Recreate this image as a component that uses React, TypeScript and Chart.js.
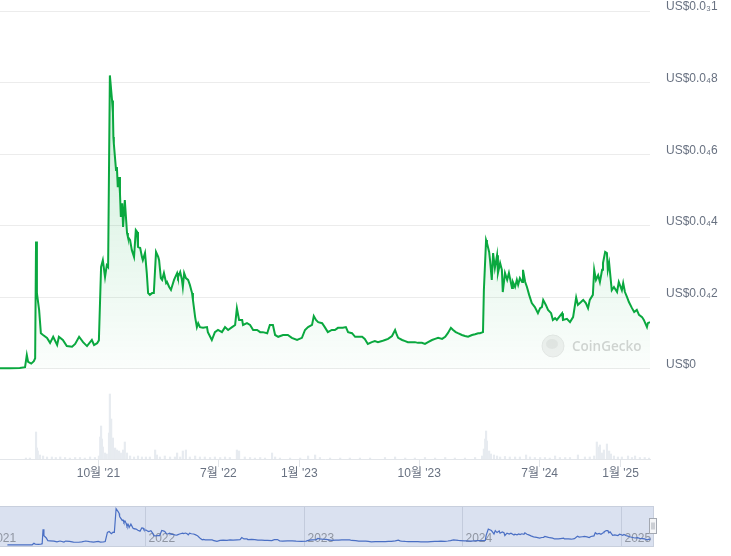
import React, { useEffect, useRef } from "react";
import { Chart, registerables } from "chart.js";
Chart.register(...registerables);

// x values: days since 2021-01-01
const priceDays = [
  49, 72, 94, 106, 110, 113, 120, 126, 129, 131, 133, 138, 142, 147, 156, 163, 170, 179, 183, 192,
  201, 213, 220, 229, 238, 247, 258, 263, 270, 274, 279, 283, 288, 292, 295, 299, 304, 306, 307, 308,
  313, 315, 317, 320, 322, 324, 327, 329, 333, 338, 340, 345, 349, 354, 358, 361, 363, 368, 372, 374,
  379, 383, 386, 390, 395, 399, 404, 409, 411, 415, 418, 422, 427, 429, 434, 438, 440, 445, 452, 454,
  459, 463, 465, 468, 472, 477, 481, 486, 488, 493, 497, 500, 504, 511, 520, 522, 531, 538, 545, 554,
  561, 568, 577, 584, 588, 593, 600, 602, 611, 618, 625, 634, 641, 647, 657, 663, 670, 675, 682, 693,
  704, 713, 725, 736, 743, 750, 759, 763, 768, 773, 782, 788, 795, 804, 811, 818, 829, 836, 841, 850,
  857, 864, 873, 879, 886, 895, 902, 909, 918, 925, 932, 941, 948, 952, 955, 964, 971, 977, 986, 993,
  1000, 1009, 1016, 1023, 1032, 1039, 1046, 1055, 1062, 1068, 1075, 1080, 1086, 1091, 1100, 1107, 1114, 1123, 1130, 1137,
  1141, 1148, 1150, 1155, 1157, 1162, 1164, 1168, 1171, 1175, 1180, 1182, 1187, 1191, 1193, 1198, 1203, 1207, 1214, 1216,
  1221, 1225, 1228, 1232, 1237, 1239, 1244, 1248, 1253, 1259, 1266, 1273, 1278, 1282, 1285, 1291, 1296, 1303, 1307, 1312,
  1316, 1321, 1328, 1330, 1339, 1346, 1353, 1360, 1364, 1371, 1376, 1382, 1387, 1391, 1398, 1401, 1405, 1410, 1414, 1419,
  1421, 1426, 1430, 1432, 1435, 1441, 1446, 1453, 1457, 1464, 1467, 1471, 1476, 1480, 1487, 1492, 1498, 1503, 1510, 1514,
  1521, 1523, 1528,
];
// price in units of 0.00001 USD
const prices = [
  0.02, 0.02, 0.03, 0.05, 0.39, 0.2, 0.15, 0.22, 0.3, 3.56, 2.12, 1.65, 1.0, 0.95, 0.87, 0.73, 0.9, 0.67, 0.9, 0.81,
  0.64, 0.62, 0.7, 0.9, 0.75, 0.64, 0.81, 0.67, 0.72, 0.8, 2.85, 3.04, 2.57, 2.9, 2.85, 8.2, 7.5, 7.15, 6.48, 6.3,
  5.56, 5.64, 5.08, 5.36, 4.9, 4.25, 4.63, 3.97, 4.72, 3.8, 3.69, 3.6, 3.32, 3.13, 3.88, 3.83, 3.41, 3.38, 3.13, 3.04,
  3.24, 2.68, 2.12, 2.07, 2.12, 2.12, 3.27, 3.13, 3.04, 2.54, 2.49, 2.68, 2.4, 2.43, 2.29, 2.21, 2.29, 2.49, 2.68, 2.57,
  2.71, 2.49, 2.29, 2.68, 2.54, 2.49, 2.35, 2.12, 1.93, 1.45, 1.17, 1.28, 1.17, 1.15, 1.17, 1.03, 0.81, 1.03, 1.09, 1.03,
  1.17, 1.09, 1.17, 1.23, 1.7, 1.37, 1.37, 1.23, 1.28, 1.23, 1.09, 1.09, 1.03, 1.03, 1.0, 1.23, 1.23, 0.95, 0.9, 0.95,
  0.95, 0.87, 0.81, 0.87, 1.09, 1.17, 1.23, 1.48, 1.37, 1.31, 1.28, 1.17, 1.03, 1.09, 1.09, 1.15, 1.15, 1.17, 1.03, 1.0,
  0.9, 0.9, 0.9, 0.84, 0.7, 0.75, 0.78, 0.75, 0.78, 0.81, 0.84, 0.92, 1.09, 0.95, 0.87, 0.81, 0.78, 0.75, 0.75, 0.75,
  0.73, 0.73, 0.7, 0.75, 0.81, 0.84, 0.87, 0.84, 0.9, 1.0, 1.15, 1.09, 1.03, 1.0, 0.95, 0.92, 0.9, 0.95, 0.97, 1.0,
  1.0, 1.03, 2.2, 3.6, 3.52, 3.27, 3.04, 2.49, 3.24, 2.82, 3.18, 2.68, 2.96, 2.77, 2.15, 2.68, 2.49, 2.68, 2.26, 2.43,
  2.29, 2.49, 2.35, 2.54, 2.43, 2.77, 2.43, 2.29, 2.07, 1.84, 1.73, 1.56, 1.7, 1.73, 1.93, 1.79, 1.65, 1.56, 1.37, 1.42,
  1.37, 1.45, 1.56, 1.37, 1.4, 1.31, 1.45, 2.0, 1.79, 1.87, 1.93, 1.84, 1.7, 1.93, 2.07, 2.77, 2.49, 2.62, 2.43, 2.77,
  2.96, 3.27, 3.24, 2.77, 2.96, 2.2, 2.29, 2.15, 2.43, 2.2, 2.4, 2.15, 2.0, 1.87, 1.7, 1.59, 1.65, 1.51, 1.45, 1.37,
  1.17, 1.28, 1.31,
];

const volumeDays = [
  108, 117, 131, 133, 135, 140, 147, 156, 167, 176, 186, 197, 208, 220, 231, 242, 254, 265, 274, 277,
  279, 281, 283, 288, 292, 297, 299, 302, 304, 306, 308, 311, 315, 320, 324, 329, 333, 338, 345, 354,
  363, 372, 381, 390, 402, 406, 413, 424, 436, 447, 452, 459, 465, 472, 481, 493, 504, 515, 527, 538,
  550, 561, 572, 588, 593, 606, 618, 629, 641, 652, 668, 675, 686, 709, 732, 750, 766, 777, 800, 823,
  845, 868, 891, 925, 948, 971, 993, 1016, 1039, 1062, 1084, 1107, 1130, 1146, 1150, 1153, 1155, 1157, 1162, 1166,
  1173, 1180, 1187, 1198, 1209, 1221, 1232, 1246, 1255, 1266, 1278, 1289, 1300, 1312, 1323, 1335, 1346, 1364, 1380, 1391,
  1401, 1407, 1412, 1414, 1419, 1423, 1430, 1435, 1439, 1446, 1455, 1464, 1478, 1487, 1494, 1505, 1516, 1526,
];
const volumes = [
  10, 10, 270, 110, 80, 40, 30, 20, 20, 15, 20, 15, 10, 15, 15, 10, 20, 15, 30, 220,
  330, 200, 120, 60, 50, 260, 650, 400, 150, 210, 100, 110, 90, 80, 60, 90, 170, 60, 30, 20,
  30, 20, 20, 20, 90, 40, 20, 30, 20, 20, 60, 20, 80, 90, 20, 30, 20, 20, 15, 20,
  15, 20, 15, 90, 80, 20, 15, 10, 15, 10, 60, 20, 10, 10, 10, 30, 40, 15, 10, 10,
  10, 10, 10, 15, 20, 10, 10, 15, 10, 15, 10, 10, 15, 30, 100, 200, 280, 180, 80, 50,
  40, 30, 20, 25, 20, 20, 20, 40, 20, 15, 15, 15, 10, 30, 15, 15, 15, 40, 20, 20,
  30, 170, 120, 140, 60, 90, 150, 80, 50, 30, 20, 20, 30, 15, 30, 15, 15, 10,
];

const xTickDays = [273, 546, 730, 1003, 1277, 1461];
const xTickLabels = ["10월 '21", "7월 '22", "1월 '23", "10월 '23", "7월 '24", "1월 '25"];
const yTickValues = [0, 2, 4, 6, 8, 10];
const yTickLabels = ["US$0", "US$0.0₄2", "US$0.0₄4", "US$0.0₄6", "US$0.0₄8", "US$0.0₃1"];
const navYearDays = [0, 365, 730, 1095, 1461];
const navYearLabels = ["2021", "2022", "2023", "2024", "2025"];

const FONT = 'Arial, "Liberation Sans", "Noto Sans CJK KR", sans-serif';
const LABEL_COLOR = "#687181";

const watermark = {
  id: "watermark",
  beforeDatasetsDraw(chart: any) {
    const { ctx, chartArea } = chart;
    const cx = chartArea.right - 97;
    const cy = chart.scales.y.getPixelForValue(0) - 23;
    ctx.save();
    ctx.beginPath();
    ctx.arc(cx, cy, 11, 0, Math.PI * 2);
    ctx.fillStyle = "#f1f1f1";
    ctx.fill();
    ctx.strokeStyle = "#e8e8e8";
    ctx.lineWidth = 1;
    ctx.stroke();
    ctx.beginPath();
    ctx.ellipse(cx - 1, cy - 2, 6, 5, 0, 0, Math.PI * 2);
    ctx.fillStyle = "#e6e6e6";
    ctx.fill();
    ctx.font = '600 13.5px "Open Sans", Arial, sans-serif';
    ctx.fillStyle = "#d5d5d5";
    ctx.textBaseline = "middle";
    ctx.textAlign = "left";
    ctx.fillText("CoinGecko", cx + 19, cy + 1);
    ctx.restore();
  },
};

const navPlugin = {
  id: "navPlugin",
  beforeDatasetsDraw(chart: any) {
    const { ctx, chartArea: a, scales } = chart;
    ctx.save();
    ctx.fillStyle = "#dae1f0";
    ctx.fillRect(a.left, a.top, a.right - a.left, a.bottom - a.top);
    ctx.strokeStyle = "#c3cbdc";
    ctx.lineWidth = 1;
    ctx.font = "12px " + FONT;
    ctx.textBaseline = "alphabetic";
    ctx.textAlign = "left";
    navYearDays.forEach((d, i) => {
      const px = Math.round(scales.x.getPixelForValue(d)) + 0.5;
      ctx.beginPath();
      ctx.moveTo(px, a.top);
      ctx.lineTo(px, a.bottom);
      ctx.stroke();
      ctx.fillStyle = "#8f95a1";
      ctx.fillText(navYearLabels[i], px + 3, a.bottom - 5);
    });
    ctx.restore();
  },
  afterDraw(chart: any) {
    const { ctx, chartArea: a } = chart;
    ctx.save();
    ctx.strokeStyle = "#c8cfdd";
    ctx.lineWidth = 1;
    ctx.strokeRect(a.left - 1, a.top + 0.5, a.right - a.left + 0.5, a.bottom - a.top - 1);
    const hx = a.right - 4.5;
    const hy = a.top + 12.5;
    ctx.fillStyle = "#f4f5f7";
    ctx.fillRect(hx, hy, 7, 15);
    ctx.strokeStyle = "#a3a8b1";
    ctx.strokeRect(hx, hy, 7, 15);
    ctx.beginPath();
    ctx.moveTo(hx + 2.5, hy + 4);
    ctx.lineTo(hx + 2.5, hy + 11);
    ctx.moveTo(hx + 4.5, hy + 4);
    ctx.lineTo(hx + 4.5, hy + 11);
    ctx.stroke();
    ctx.restore();
  },
};

export default function App() {
  const mainRef = useRef<HTMLCanvasElement>(null);
  const navRef = useRef<HTMLCanvasElement>(null);

  useEffect(() => {
    const priceData = priceDays.map((d, i) => ({ x: d, y: prices[i] }));
    const volData = volumeDays.map((d, i) => ({ x: d, y: volumes[i] }));

    const main = new Chart(mainRef.current as HTMLCanvasElement, {
      type: "line",
      data: {
        datasets: [
          {
            type: "line",
            data: priceData,
            yAxisID: "y",
            borderColor: "#0aa83f",
            borderWidth: 2,
            pointRadius: 0,
            tension: 0,
            fill: { value: 0 },
            backgroundColor: (c: any) => {
              const chart = c.chart;
              if (!chart.chartArea) return "rgba(0,168,62,0.08)";
              const ys = chart.scales.y;
              const g = chart.ctx.createLinearGradient(0, ys.getPixelForValue(8.2), 0, ys.getPixelForValue(0));
              g.addColorStop(0, "rgba(0,168,62,0.2)");
              g.addColorStop(1, "rgba(0,168,62,0.015)");
              return g;
            },
            order: 0,
          } as any,
          {
            type: "bar",
            data: volData,
            yAxisID: "yv",
            backgroundColor: "#e7ebf0",
            barThickness: 1.5,
            order: 1,
          } as any,
        ],
      },
      options: {
        animation: false,
        responsive: false,
        maintainAspectRatio: false,
        layout: { padding: { top: 11, left: 0, right: 0, bottom: 0 } },
        plugins: { legend: { display: false }, tooltip: { enabled: false } },
        scales: {
          x: {
            type: "linear",
            min: 49,
            max: 1528,
            offset: false,
            afterBuildTicks: (s: any) => {
              s.ticks = xTickDays.map((v) => ({ value: v }));
            },
            afterFit: (s: any) => {
              s.height = 31;
              s.paddingLeft = 0;
              s.paddingRight = 0;
            },
            ticks: {
              callback: (_v: any, i: number) => xTickLabels[i],
              font: { size: 12, family: FONT },
              color: LABEL_COLOR,
              padding: -1,
              maxRotation: 0,
              autoSkip: false,
            },
            grid: { drawOnChartArea: false, drawTicks: true, tickLength: 8, color: "#e3e6ea", offset: false },
            border: { display: true, color: "#e3e6ea" },
          },
          y: {
            position: "right",
            min: -2.514,
            max: 10,
            afterBuildTicks: (s: any) => {
              s.ticks = yTickValues.map((v) => ({ value: v }));
            },
            afterFit: (s: any) => {
              s.width = 81;
              s.paddingTop = 0;
              s.paddingBottom = 0;
            },
            ticks: {
              callback: (_v: any, i: number) => yTickLabels[i],
              font: { size: 12, family: FONT },
              color: LABEL_COLOR,
              padding: 16,
              labelOffset: -4,
            },
            grid: { color: "#ececec", drawTicks: false },
            border: { display: false },
          },
          yv: {
            display: false,
            position: "right",
            min: 0,
            max: 4480,
          },
        },
      } as any,
      plugins: [watermark],
    });

    const nav = new Chart(navRef.current as HTMLCanvasElement, {
      type: "line",
      data: {
        datasets: [
          {
            data: priceData,
            borderColor: "#4a6fc4",
            borderWidth: 1.2,
            pointRadius: 0,
            tension: 0,
            fill: false,
          },
        ],
      },
      options: {
        animation: false,
        responsive: false,
        maintainAspectRatio: false,
        layout: { padding: { top: 0, left: 0, right: 77, bottom: 0 } },
        plugins: { legend: { display: false }, tooltip: { enabled: false } },
        scales: {
          x: { type: "linear", display: false, min: 32, max: 1536 },
          y: { display: false, min: -0.45, max: 8.82 },
        },
      } as any,
      plugins: [navPlugin],
    });

    return () => {
      main.destroy();
      nav.destroy();
    };
  }, []);

  return (
    <div style={{ position: "fixed", left: 0, top: 0, width: 731, height: 556, background: "#fff", overflow: "hidden" }}>
      <canvas ref={mainRef} width={731} height={490} style={{ position: "absolute", left: 0, top: 0, width: 731, height: 490 }} />
      <canvas ref={navRef} width={731} height={41} style={{ position: "absolute", left: 0, top: 506, width: 731, height: 41 }} />
    </div>
  );
}
